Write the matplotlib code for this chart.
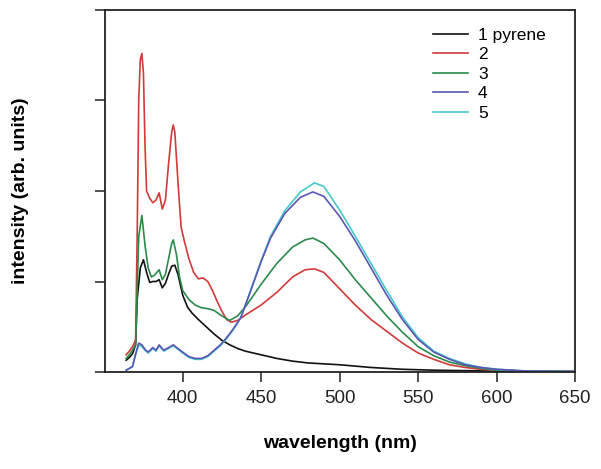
import matplotlib
matplotlib.use("Agg")
import matplotlib.pyplot as plt

plt.rcParams['font.family'] = ['Liberation Sans', 'DejaVu Sans']

# Series 1 (pyrene, black)
wl_1 = [364, 366, 368, 370, 371, 373, 375, 377, 379, 381, 383, 385, 387, 389, 391, 393, 395, 397,
        400, 403, 406, 410, 415, 420, 425, 430, 435, 440, 450, 460, 470, 480, 500, 520, 540, 560, 600, 650]
y_1 = [0.13, 0.16, 0.20, 0.30, 0.80, 1.15, 1.24, 1.10, 0.99, 1.00, 1.00, 1.02, 0.93, 0.98, 1.08, 1.17, 1.18, 1.08,
       0.85, 0.72, 0.65, 0.58, 0.50, 0.42, 0.35, 0.30, 0.26, 0.23, 0.19, 0.15, 0.12, 0.10, 0.08, 0.05, 0.03, 0.02, 0.01, 0.005]

# Series 2 (red)
wl_2 = [364, 366, 368, 370, 371, 372, 373, 374, 375, 376, 377, 379, 381, 383, 385, 387, 389, 391, 393, 394, 395,
        397, 399, 401, 404, 407, 410, 413, 416, 419, 422, 425, 428, 431, 435, 440, 450, 460, 470, 478, 484, 490,
        500, 510, 520, 530, 540, 550, 560, 570, 580, 590, 600, 620, 650]
y_2 = [0.19, 0.23, 0.28, 0.35, 1.50, 3.00, 3.45, 3.52, 3.30, 2.50, 2.00, 1.92, 1.87, 1.90, 1.98, 1.80, 1.90, 2.30,
       2.65, 2.73, 2.65, 2.10, 1.60, 1.45, 1.25, 1.10, 1.03, 1.04, 1.00, 0.90, 0.78, 0.67, 0.58, 0.55, 0.57, 0.63,
       0.74, 0.88, 1.05, 1.13, 1.14, 1.10, 0.92, 0.74, 0.58, 0.45, 0.32, 0.21, 0.14, 0.08, 0.05, 0.03, 0.02, 0.01, 0.005]

# Series 3 (green)
wl_3 = [364, 366, 368, 370, 371, 372, 374, 376, 378, 380, 382, 385, 387, 389, 391, 393, 394, 396, 398, 400, 404,
        408, 412, 416, 420, 425, 430, 435, 440, 450, 460, 470, 478, 483, 490, 500, 510, 520, 530, 540, 550, 560,
        570, 580, 590, 600, 620, 650]
y_3 = [0.15, 0.19, 0.24, 0.30, 0.90, 1.50, 1.73, 1.40, 1.15, 1.05, 1.07, 1.13, 1.02, 1.08, 1.25, 1.42, 1.46, 1.30,
       1.05, 0.90, 0.80, 0.74, 0.71, 0.70, 0.68, 0.62, 0.57, 0.62, 0.72, 0.97, 1.20, 1.38, 1.46, 1.48, 1.42, 1.24,
       1.02, 0.82, 0.62, 0.44, 0.28, 0.18, 0.11, 0.07, 0.04, 0.02, 0.01, 0.005]

# Series 4 (blue)
wl_4 = [364, 366, 368, 370, 372, 374, 376, 378, 381, 383, 385, 388, 391, 394, 397, 400, 404, 408, 412, 416, 420,
        424, 428, 432, 437, 443, 450, 456, 465, 475, 483, 490, 500, 510, 520, 530, 540, 550, 560, 570, 580, 590,
        600, 620, 650]
y_4 = [0.02, 0.04, 0.06, 0.20, 0.32, 0.30, 0.25, 0.22, 0.27, 0.24, 0.30, 0.24, 0.27, 0.30, 0.26, 0.22, 0.17, 0.15,
       0.15, 0.18, 0.24, 0.30, 0.38, 0.47, 0.60, 0.88, 1.22, 1.48, 1.75, 1.93, 1.99, 1.94, 1.72, 1.45, 1.15, 0.85,
       0.58, 0.36, 0.22, 0.14, 0.08, 0.05, 0.03, 0.01, 0.005]

# Series 5 (cyan)
wl_5 = [364, 366, 368, 370, 372, 374, 376, 378, 381, 383, 385, 388, 391, 394, 397, 400, 404, 408, 412, 416, 420,
        424, 428, 432, 437, 443, 450, 456, 465, 475, 484, 490, 500, 510, 520, 530, 540, 550, 560, 570, 580, 590,
        600, 620, 650]
y_5 = [0.02, 0.04, 0.06, 0.19, 0.30, 0.28, 0.24, 0.21, 0.26, 0.23, 0.29, 0.23, 0.26, 0.29, 0.25, 0.21, 0.16, 0.14,
       0.14, 0.17, 0.23, 0.29, 0.37, 0.46, 0.60, 0.89, 1.23, 1.50, 1.78, 1.99, 2.09, 2.05, 1.79, 1.50, 1.20, 0.90,
       0.61, 0.38, 0.23, 0.15, 0.09, 0.05, 0.03, 0.01, 0.005]

labels = ["1 pyrene", "2", "3", "4", "5"]
colors = ["#111111", "#d23a3a", "#2a8a4a", "#5b55b5", "#45c9c9"]

x_ticks = [400, 450, 500, 550, 600, 650]
y_ticks = [0, 1, 2, 3, 4]

fig = plt.figure(figsize=(6.01, 4.69), dpi=100)
ax = fig.add_axes([105/601, 1 - 372/469, 470/601, 362/469])

series = [(wl_1, y_1), (wl_2, y_2), (wl_3, y_3), (wl_4, y_4), (wl_5, y_5)]
handles = [None] * 5
for i in [0, 1, 2, 4, 3]:
    wl, yy = series[i]
    h, = ax.plot(wl, yy, color=colors[i], lw=1.2, label=labels[i])
    handles[i] = h

ax.set_xlim(350.5, 650)
ax.set_ylim(0, 4)
ax.set_xticks(x_ticks)
ax.set_xticklabels([str(t) for t in x_ticks])
ax.set_yticks(y_ticks)
ax.set_yticklabels([])
ax.tick_params(direction='out', length=7, width=1.1, labelsize=13.5, colors='#222222')
ax.tick_params(axis='x', pad=6)
for s in ax.spines.values():
    s.set_linewidth(1.3)
    s.set_color('#222222')

ax.set_xlabel("wavelength (nm)", fontsize=14, fontweight='bold', labelpad=20)
ax.set_ylabel("intensity (arb. units)", fontsize=14, fontweight='bold', labelpad=44)

leg = ax.legend(handles=handles, labels=labels, loc='upper right', bbox_to_anchor=(0.96, 0.98),
                frameon=False, fontsize=12.5, handlelength=2.0, handletextpad=0.6,
                labelspacing=0.25, borderaxespad=0.2)

fig.savefig("out.png", dpi=100)
